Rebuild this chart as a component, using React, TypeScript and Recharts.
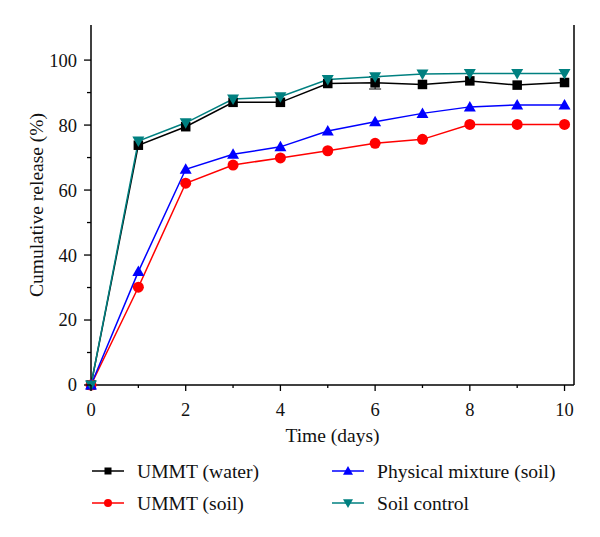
import { LineChart, Line, XAxis, YAxis, Legend, ErrorBar } from "recharts";

const days = [0, 1, 2, 3, 4, 5, 6, 7, 8, 9, 10];
const ummtWater = [0, 73.8, 79.5, 87.0, 87.0, 92.8, 93.0, 92.5, 93.6, 92.3, 93.1];
const ummtWaterErr = [0, 0, 0, 0, 0, 0, 1.9, 0, 0, 0, 0];
const ummtSoil = [0, 30.1, 62.1, 67.7, 69.9, 72.1, 74.4, 75.6, 80.2, 80.2, 80.2];
const physicalMix = [0, 34.9, 66.4, 71.0, 73.3, 78.2, 81.0, 83.6, 85.6, 86.2, 86.2];
const soilControl = [0, 75.1, 80.7, 88.0, 88.7, 94.0, 94.9, 95.7, 95.9, 95.9, 95.9];

const xTicks = [0, 1, 2, 3, 4, 5, 6, 7, 8, 9, 10];
const yTicks = [0, 10, 20, 30, 40, 50, 60, 70, 80, 90, 100];
const rightTicks = [0, 1, 2, 3, 4, 5, 6, 7, 8, 9, 10];

const data = days.map((d, i) => ({
  day: d,
  water: ummtWater[i],
  waterErr: ummtWaterErr[i],
  soil: ummtSoil[i],
  mix: physicalMix[i],
  control: soilControl[i],
}));

const FONT = "'Liberation Serif', 'DejaVu Serif', serif";
const TEAL = "#008080";

const Square = ({ cx, cy, size = 9, fill }: any) => (
  <rect x={cx - size / 2} y={cy - size / 2} width={size} height={size} fill={fill} />
);
const Circle = ({ cx, cy, r = 5, fill }: any) => <circle cx={cx} cy={cy} r={r} fill={fill} />;
const TriUp = ({ cx, cy, s = 6, fill }: any) => (
  <path d={`M${cx},${cy - s} L${cx + s},${cy + s * 0.75} L${cx - s},${cy + s * 0.75} Z`} fill={fill} />
);
const TriDown = ({ cx, cy, s = 6, fill }: any) => (
  <path d={`M${cx},${cy + s} L${cx + s},${cy - s * 0.75} L${cx - s},${cy - s * 0.75} Z`} fill={fill} />
);

const BottomTick = ({ x, y, payload }: any) => {
  const major = payload.value % 2 === 0;
  return (
    <g>
      <line x1={x} x2={x} y1={y} y2={y + (major ? 6 : 3)} stroke="#000" strokeWidth={1.3} />
      {major && (
        <text x={x} y={y + 31} textAnchor="middle" fontSize={18.5} fontFamily={FONT} fill="#111">
          {payload.value}
        </text>
      )}
    </g>
  );
};

const TopTick = ({ x, y, payload }: any) => {
  const major = payload.value % 2 === 0;
  return <line x1={x} x2={x} y1={y} y2={y - (major ? 5 : 2.5)} stroke="#000" strokeWidth={1.3} />;
};

const LeftTick = ({ x, y, payload }: any) => {
  const major = payload.value % 20 === 0;
  return (
    <g>
      <line x1={x} x2={x - (major ? 7 : 4)} y1={y} y2={y} stroke="#000" strokeWidth={1.3} />
      {major && (
        <text x={x - 14} y={y} dy="0.35em" textAnchor="end" fontSize={18.5} fontFamily={FONT} fill="#111">
          {payload.value}
        </text>
      )}
    </g>
  );
};

const legendItems = [
  { name: "UMMT (water)", color: "#000", marker: "square", x: 92, y: 16 },
  { name: "UMMT (soil)", color: "#ff0000", marker: "circle", x: 92, y: 48 },
  { name: "Physical mixture (soil)", color: "#0000ff", marker: "up", x: 332, y: 16 },
  { name: "Soil control", color: TEAL, marker: "down", x: 332, y: 48 },
];

const renderLegend = () => (
  <svg width={600} height={70}>
    {legendItems.map((it) => {
      const cx = it.x + 16;
      return (
        <g key={it.name}>
          <line x1={it.x} x2={it.x + 32} y1={it.y} y2={it.y} stroke={it.color} strokeWidth={1.5} />
          {it.marker === "square" && <Square cx={cx} cy={it.y} size={7} fill={it.color} />}
          {it.marker === "circle" && <Circle cx={cx} cy={it.y} r={4} fill={it.color} />}
          {it.marker === "up" && <TriUp cx={cx} cy={it.y} s={5} fill={it.color} />}
          {it.marker === "down" && <TriDown cx={cx} cy={it.y} s={5} fill={it.color} />}
          <text x={it.x + 45} y={it.y} dy="0.35em" fontSize={19.6} fontFamily={FONT} fill="#111">
            {it.name}
          </text>
        </g>
      );
    })}
  </svg>
);

export default function App() {
  return (
    <div style={{ position: "absolute", left: 0, top: 0, width: 600, height: 537, background: "#fff" }}>
      <LineChart width={600} height={537} data={data} margin={{ top: 25, right: 21, bottom: 112, left: 31 }}>
        <XAxis
          dataKey="day"
          type="number"
          domain={[0, 10.2]}
          ticks={xTicks}
          height={40}
          tickSize={0}
          tickMargin={0}
          tick={<BottomTick />}
          axisLine={{ stroke: "#000", strokeWidth: 1.5 }}
          tickLine={false}
          label={{
            value: "Time (days)",
            position: "bottom",
            offset: 3,
            style: { fontSize: 19.5, fontFamily: FONT, fill: "#111" },
          }}
        />
        <XAxis
          xAxisId="top"
          orientation="top"
          type="number"
          domain={[0, 10]}
          ticks={xTicks}
          height={0}
          tickSize={0}
          tickMargin={0}
          tick={<TopTick />}
          axisLine={{ stroke: "#000", strokeWidth: 1.5 }}
          tickLine={false}
        />
        <YAxis
          type="number"
          domain={[0, 110.8]}
          ticks={yTicks}
          width={60}
          tickSize={0}
          tickMargin={0}
          tick={<LeftTick />}
          axisLine={{ stroke: "#000", strokeWidth: 1.5 }}
          tickLine={false}
          label={{
            value: "Cumulative release (%)",
            angle: -90,
            position: "insideLeft",
            offset: 5,
            style: { textAnchor: "middle", fontSize: 19.5, fontFamily: FONT, fill: "#111" },
          }}
        />
        <YAxis
          yAxisId="right"
          orientation="right"
          type="number"
          domain={[0, 10]}
          ticks={rightTicks}
          width={5}
          tick={false}
          tickSize={3}
          axisLine={{ stroke: "#000", strokeWidth: 1.5 }}
          tickLine={{ stroke: "#000", strokeWidth: 1.3 }}
        />
        <Line
          dataKey="water"
          name="UMMT (water)"
          stroke="#000"
          strokeWidth={1.5}
          isAnimationActive={false}
          dot={(p: any) => <Square key={`w${p.index}`} cx={p.cx} cy={p.cy} size={9.5} fill="#000" />}
        >
          <ErrorBar dataKey="waterErr" width={6} stroke="#000" strokeWidth={1} />
        </Line>
        <Line
          dataKey="soil"
          name="UMMT (soil)"
          stroke="#ff0000"
          strokeWidth={1.5}
          isAnimationActive={false}
          dot={(p: any) => <Circle key={`s${p.index}`} cx={p.cx} cy={p.cy} r={5.5} fill="#ff0000" />}
        />
        <Line
          dataKey="mix"
          name="Physical mixture (soil)"
          stroke="#0000ff"
          strokeWidth={1.5}
          isAnimationActive={false}
          dot={(p: any) => <TriUp key={`m${p.index}`} cx={p.cx} cy={p.cy} s={6} fill="#0000ff" />}
        />
        <Line
          dataKey="control"
          name="Soil control"
          stroke={TEAL}
          strokeWidth={1.5}
          isAnimationActive={false}
          dot={(p: any) => <TriDown key={`c${p.index}`} cx={p.cx} cy={p.cy} s={6} fill={TEAL} />}
        />
        <Legend
          verticalAlign="middle"
          align="center"
          layout="horizontal"
          wrapperStyle={{ left: 0, top: 455, width: 600, height: 70 }}
          content={renderLegend}
        />
      </LineChart>
    </div>
  );
}
